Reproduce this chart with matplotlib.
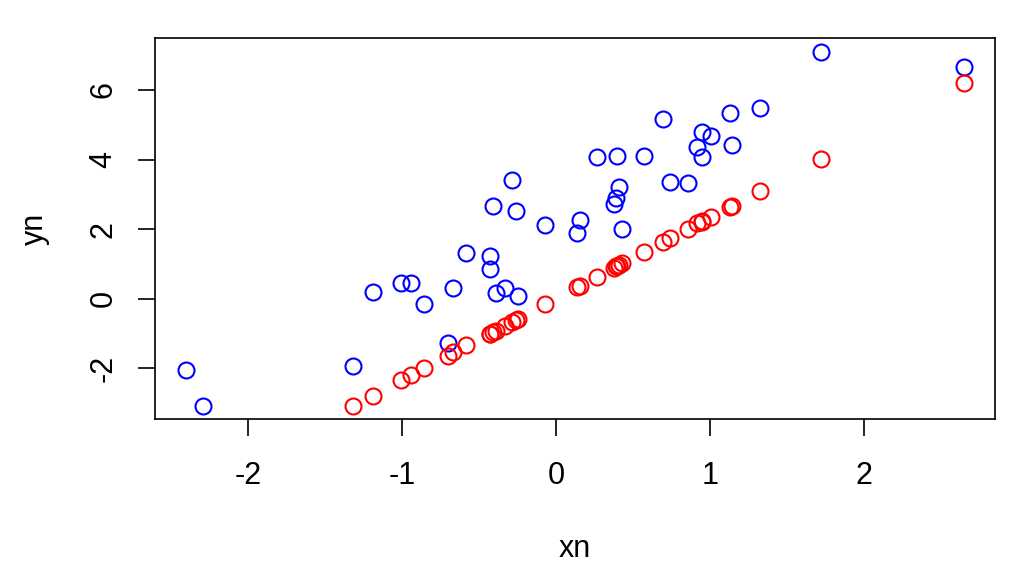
import matplotlib
matplotlib.use("Agg")
from matplotlib import pyplot as plt

# values
xn = [-2.403, -2.292, -1.318, -1.191, -1.005, -0.940, -0.855, -0.704, -0.671, -0.582,
      -0.427, -0.429, -0.409, -0.390, -0.329, -0.286, -0.260, -0.249, -0.071, 0.153,
      0.136, 0.432, 0.374, 0.392, 0.407, 0.268, 0.396, 0.571, 0.695, 0.740,
      0.855, 0.917, 0.946, 0.950, 1.004, 1.130, 1.145, 1.325, 1.718, 2.647]
yn = [-2.04, -3.07, -1.92, 0.19, 0.45, 0.45, -0.15, -1.27, 0.32, 1.33,
      1.24, 0.85, 2.68, 0.17, 0.32, 3.40, 2.53, 0.09, 2.11, 2.27,
      1.89, 2.00, 2.72, 2.89, 3.20, 4.06, 4.10, 4.10, 5.17, 3.36,
      3.33, 4.35, 4.06, 4.80, 4.68, 5.34, 4.43, 5.47, 7.10, 6.65]
# second series (only the points that fall inside the plot region are visible)
xr = xn[2:]
yr = [-3.07, -2.78, -2.33, -2.18, -1.99, -1.63, -1.54, -1.34,
      -1.00, -1.01, -0.96, -0.92, -0.77, -0.67, -0.61, -0.58, -0.15, 0.37,
      0.34, 1.03, 0.88, 0.93, 0.98, 0.64, 0.93, 1.35, 1.64, 1.74,
      2.00, 2.17, 2.22, 2.24, 2.36, 2.65, 2.68, 3.10, 4.02, 6.20]

x_ticks = [-2, -1, 0, 1, 2]
x_labels = ["-2", "-1", "0", "1", "2"]
y_ticks = [-2, 0, 2, 4, 6]
y_labels = ["-2", "0", "2", "4", "6"]

plt.rcParams["font.family"] = ["Liberation Sans", "DejaVu Sans"]

fig = plt.figure(figsize=(10.24, 5.77), dpi=100)
ax = fig.add_axes([0.151, 0.274, 0.821, 0.660])

ax.plot(xn, yn, linestyle="none", marker="o", markersize=11.5, markerfacecolor="none",
        markeredgecolor="#0000ff", markeredgewidth=1.5)
ax.plot(xr, yr, linestyle="none", marker="o", markersize=11.5, markerfacecolor="none",
        markeredgecolor="#ff0000", markeredgewidth=1.5)

ax.set_xlim(-2.606, 2.853)
ax.set_ylim(-3.45, 7.49)
ax.set_xticks(x_ticks)
ax.set_xticklabels(x_labels)
ax.set_yticks(y_ticks)
ax.set_yticklabels(y_labels, rotation=90, va="center")
ax.tick_params(direction="out", length=12, width=1.2, labelsize=22, pad=14)
ax.tick_params(axis="x", pad=18)
for s in ax.spines.values():
    s.set_linewidth(1.2)

ax.set_xlabel("xn", fontsize=22, labelpad=31)
ax.set_ylabel("yn", fontsize=22, labelpad=28)

plt.savefig("out.png", dpi=100)
plt.close()
